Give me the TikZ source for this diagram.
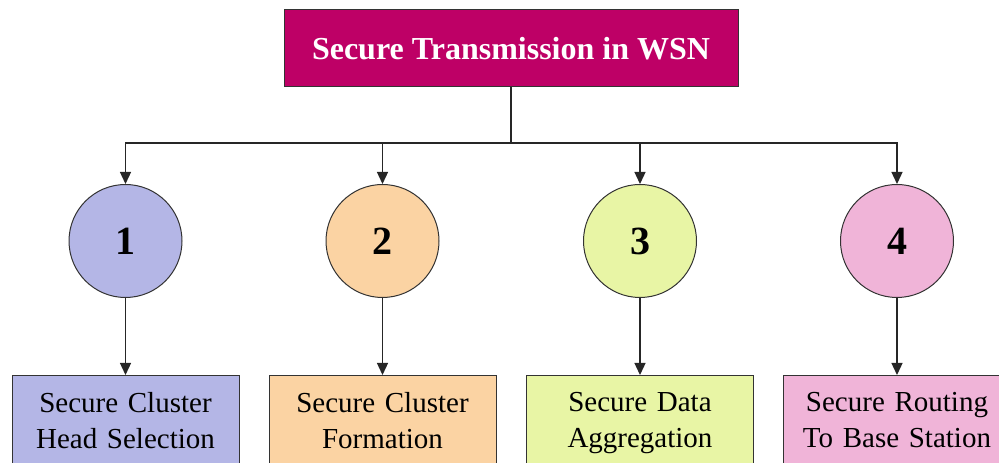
\documentclass[tikz,border=0pt]{standalone}
\usepackage{fontspec}
\setmainfont{Liberation Serif}
\usetikzlibrary{arrows.meta,positioning}

\definecolor{wsnred}{RGB}{190,0,102}
\definecolor{lav}{RGB}{180,182,230}
\definecolor{peach}{RGB}{251,211,163}
\definecolor{lime}{RGB}{232,245,165}
\definecolor{rose}{RGB}{240,180,216}

\begin{document}
\begin{tikzpicture}[x=1pt,y=1pt,->,>={Triangle[length=12pt,width=11pt]},
  line width=1.3pt,draw=black!85,
  head node/.style={rectangle,draw=black!80,line width=1pt,fill=wsnred,text=white,
    minimum width=454pt,minimum height=77pt,font=\fontsize{32}{36}\selectfont\bfseries},
  num node/.style={circle,draw=black!80,line width=1pt,minimum size=113pt,inner sep=0pt,
    font=\fontsize{40}{44}\selectfont\bfseries},
  task node/.style={rectangle,draw=black!80,line width=1pt,text width=227pt,align=center,
    inner xsep=0pt,inner ysep=17pt,font=\fontsize{29}{36}\selectfont}]

  \useasboundingbox (0,0) rectangle (999,463);
  \clip (0,0) rectangle (999,463);

  \node[head node] (top) at (511,414.5) {Secure Transmission in WSN};
  \coordinate (bus) at (511,320);

  \node[num node,fill=lav] (1) at (125.5,222) {1};
  \node[num node,fill=peach] (2) at (382.5,222) {2};
  \node[num node,fill=lime] (3) at (640,222) {3};
  \node[num node,fill=rose] (4) at (897,222) {4};

  \node[task node,fill=lav,below=77pt of 1] (a) {Secure Cluster\\Head Selection};
  \node[task node,fill=peach,below=77pt of 2] (b) {Secure Cluster\\Formation};
  \node[task node,fill=lime,below=77pt of 3] (c) {Secure Data\\Aggregation};
  \node[task node,fill=rose,below=77pt of 4] (d) {Secure Routing\\To Base Station};

  \draw[-] (top) -- (bus);
  \draw (bus) -| (1);
  \draw (bus) -| (2);
  \draw (bus) -| (3);
  \draw (bus) -| (4);

  \path
    (1) edge (a)
    (2) edge (b)
    (3) edge (c)
    (4) edge (d);
\end{tikzpicture}
\end{document}
